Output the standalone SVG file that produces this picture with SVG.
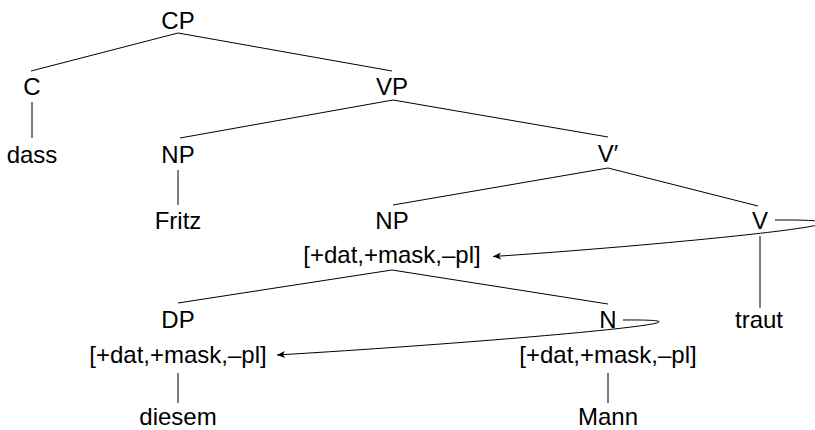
<svg xmlns="http://www.w3.org/2000/svg" width="815" height="430" viewBox="0 0 815 430">
<defs>
<style>
text{font-family:"Liberation Sans","DejaVu Sans",sans-serif;font-size:24px;fill:#000;text-anchor:middle}
.e{stroke:#000;stroke-width:1;fill:none}
.a{stroke:#000;stroke-width:1;fill:none;marker-end:url(#ah)}
</style>
<marker id="ah" markerUnits="userSpaceOnUse" markerWidth="12" markerHeight="10" viewBox="-9 -5 10 10" refX="0" refY="0" orient="auto">
<path d="M0,0 L-8,-3.5 L-6,0 L-8,3.5 Z" fill="#000"/>
</marker>
</defs>
<g id="connectors">
<line class="e" x1="178" y1="33" x2="31" y2="71"/>
<line class="e" x1="178" y1="33" x2="392" y2="71"/>
<line class="e" x1="32" y1="102" x2="32" y2="138"/>
<line class="e" x1="393" y1="100" x2="180" y2="138"/>
<line class="e" x1="393" y1="100" x2="608" y2="137"/>
<line class="e" x1="178" y1="170" x2="178" y2="205"/>
<line class="e" x1="608" y1="168" x2="393" y2="205"/>
<line class="e" x1="608" y1="168" x2="758" y2="206"/>
<line class="e" x1="392" y1="270" x2="178" y2="303"/>
<line class="e" x1="392" y1="270" x2="608" y2="304"/>
<line class="e" x1="760" y1="236" x2="760" y2="308"/>
<line class="e" x1="178" y1="373" x2="178" y2="403"/>
<line class="e" x1="608" y1="373" x2="608" y2="403"/>
<path class="a" d="M775,220 C940,219 640,247 493,256.5"/>
<path class="a" d="M623,320 C755,319 500,341.7 277,355"/>
</g>
<g id="CP"><text x="178" y="29">CP</text></g>
<g id="C"><text x="32" y="95">C</text></g>
<g id="VP"><text x="392" y="95">VP</text></g>
<g id="dass"><text x="32" y="163">dass</text></g>
<g id="NP1"><text x="178" y="163">NP</text></g>
<g id="Vbar"><text x="608" y="162">V′</text></g>
<g id="Fritz"><text x="178" y="229">Fritz</text></g>
<g id="NP2"><text x="392" y="229">NP</text><text x="392" y="263">[+dat,+mask,–pl]</text></g>
<g id="V"><text x="760" y="229">V</text></g>
<g id="DP"><text x="178" y="328">DP</text><text x="178" y="363">[+dat,+mask,–pl]</text></g>
<g id="N"><text x="608" y="328">N</text><text x="608" y="363">[+dat,+mask,–pl]</text></g>
<g id="traut"><text x="759" y="328">traut</text></g>
<g id="diesem"><text x="178" y="425">diesem</text></g>
<g id="Mann"><text x="608" y="425">Mann</text></g>
</svg>
